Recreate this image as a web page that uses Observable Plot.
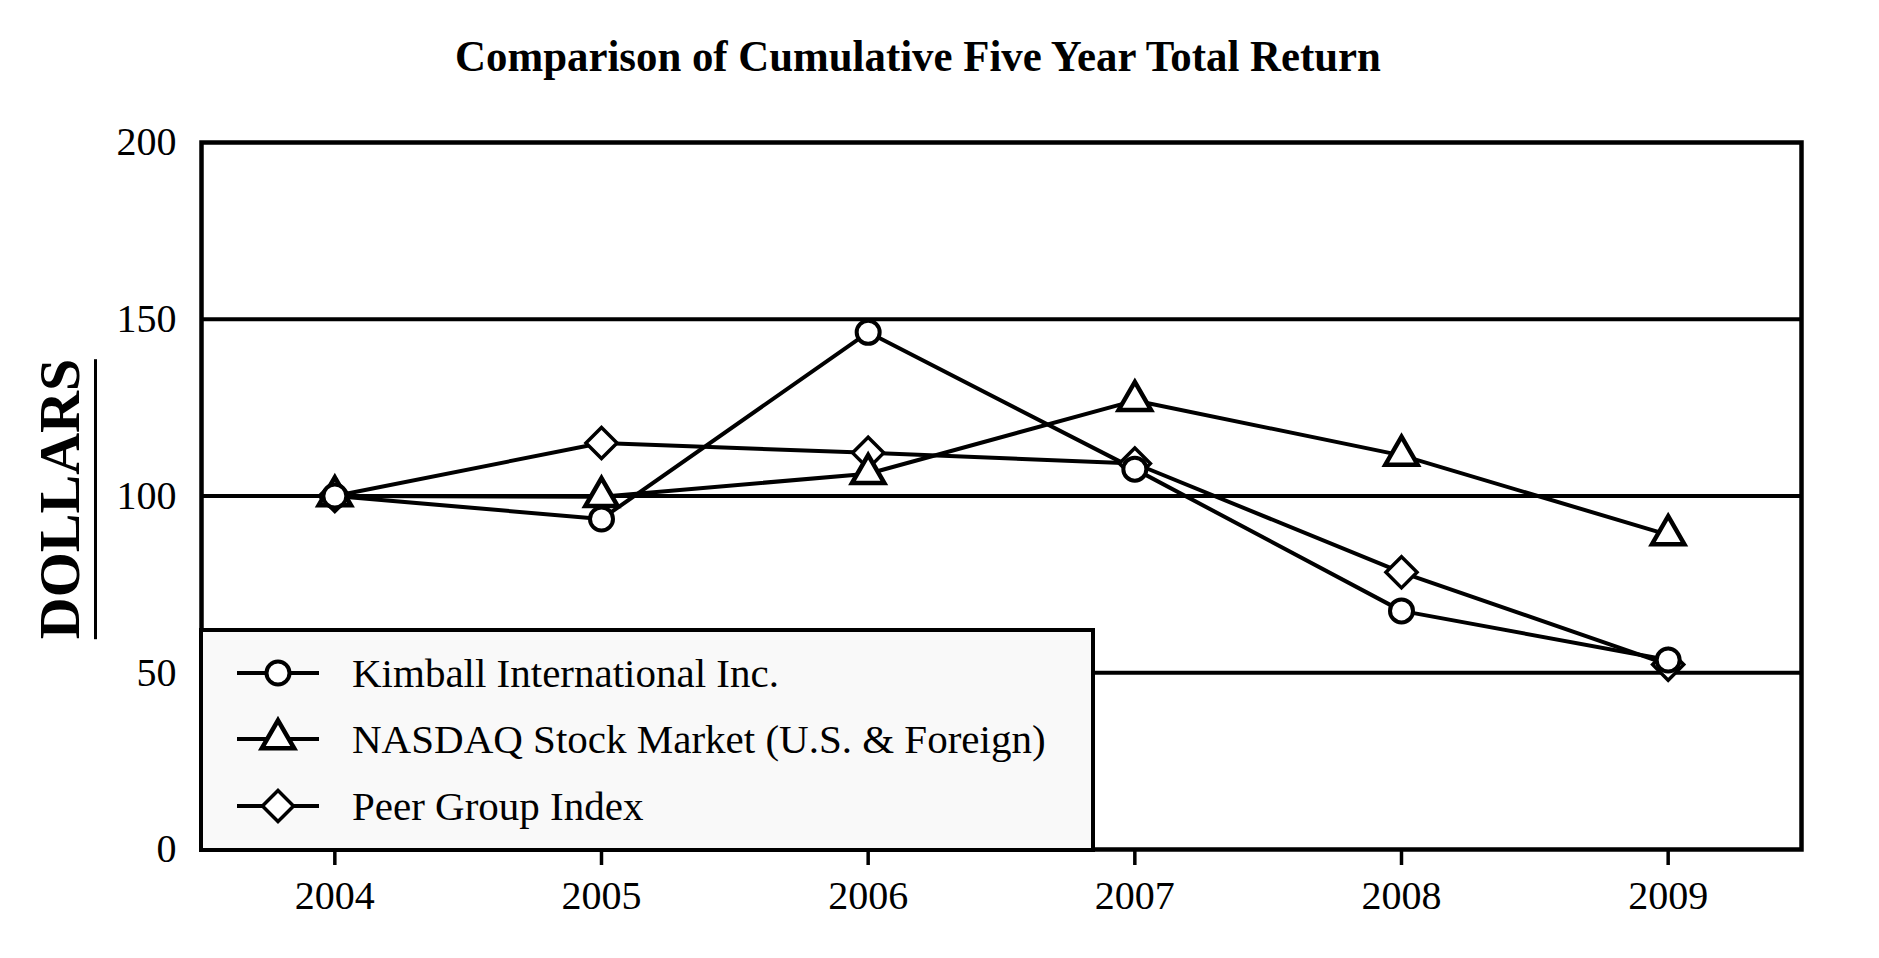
<!DOCTYPE html>
<html>
<head>
<meta charset="utf-8">
<script src="https://cdn.jsdelivr.net/npm/d3@7"></script>
<script src="https://cdn.jsdelivr.net/npm/@observablehq/plot@0.6"></script>
<style>
  html, body { margin: 0; padding: 0; background: #fff; }
  #wrap { position: relative; width: 1879px; height: 958px; font-family: "Liberation Serif", "Times New Roman", serif; color: #000; overflow: hidden; }
  #title { height: 100px; position: relative; }
  #title span { position: absolute; left: 917.5px; top: 34px; line-height: 45px; font-size: 45px; font-weight: bold; white-space: nowrap;
                transform: translateX(-50%) scaleX(0.952); transform-origin: 50% 50%; }
  #ylabel { position: absolute; left: 63.5px; top: 499px; transform: translate(-50%, -50%) rotate(-90deg);
            font-weight: bold; font-size: 58px; line-height: 58px; padding-bottom: 5px; border-bottom: 3px solid #000; white-space: nowrap; }
  #legend { position: absolute; left: 199px; top: 628px; width: 896px; height: 223.5px; box-sizing: border-box;
            border: 4px solid #000; background: #f9f9f9; }
  .row { position: absolute; left: 0; height: 50px; line-height: 50px; font-size: 41px; white-space: nowrap; }
  .row svg { position: absolute; left: 33.5px; top: 0; overflow: visible; }
  .row span { position: absolute; left: 149px; top: 0; }
</style>
</head>
<body>
<div id="wrap">
  <div id="title"><span>Comparison of Cumulative Five Year Total Return</span></div>
  <div id="chart"></div>
  <div id="ylabel">DOLLARS</div>
  <div id="legend"></div>
</div>
<script>
// ---- data ----
const years = [2004, 2005, 2006, 2007, 2008, 2009];
const kimball = [100, 93.5, 146.3, 107.6, 67.5, 53.6];
const nasdaq = [100, 99.8, 106.3, 127.0, 111.5, 89.0];
const peer = [100, 115.0, 112.2, 109.2, 78.4, 52.3];
const seriesNames = ["Kimball International Inc.", "NASDAQ Stock Market (U.S. & Foreign)", "Peer Group Index"];
const seriesSymbols = ["circle", "triangle", "diamond2"];
const yTicks = [0, 50, 100, 150, 200];
const gridValues = [50, 100, 150];

const seriesValues = [kimball, nasdaq, peer];
const rows = [];
seriesNames.forEach((name, i) => {
  years.forEach((yr, j) => rows.push({series: name, year: yr, value: seriesValues[i][j]}));
});
const symR = {"circle": 11.5, "triangle": 12, "diamond2": 14};
const symStroke = {"circle": 4, "triangle": 4.5, "diamond2": 3.5};

const dotMark = (i) => Plot.dot(rows.filter(d => d.series === seriesNames[i]), {
  x: "year", y: "value", symbol: () => seriesSymbols[i], r: symR[seriesSymbols[i]],
  fill: "white", stroke: "black", strokeWidth: symStroke[seriesSymbols[i]]
});

const chart = Plot.plot({
  width: 1879, height: 858,
  marginTop: 42, marginBottom: 109, marginLeft: 201, marginRight: 78,
  style: {fontFamily: "Liberation Serif", fontSize: "40px", color: "black", background: "white"},
  x: {domain: [2003.5, 2009.5]},
  y: {domain: [0, 200]},
  symbol: {type: "identity"},
  marks: [
    Plot.gridY(gridValues, {stroke: "black", strokeOpacity: 1, strokeWidth: 4}),
    Plot.axisY(yTicks, {tickSize: 0, tickPadding: 25, fontSize: 40, label: null}),
    Plot.axisX(years, {tickSize: 16, tickPadding: 15, tickFormat: d => String(d), fontSize: 40, strokeWidth: 3.5, label: null}),
    Plot.line(rows, {x: "year", y: "value", z: "series", stroke: "black", strokeWidth: 4}),
    dotMark(2),
    dotMark(1),
    dotMark(0),
    Plot.frame({stroke: "black", strokeWidth: 4.5})
  ]
});
document.getElementById("chart").appendChild(chart);

// ---- legend ----
const legend = document.getElementById("legend");
const rowCenters = [41, 107, 174];
const d3Sym = {"circle": d3.symbolCircle, "triangle": d3.symbolTriangle, "diamond2": d3.symbolDiamond2};
seriesNames.forEach((name, i) => {
  const row = document.createElement("div");
  row.className = "row";
  row.style.top = (rowCenters[i] - 25) + "px";
  const s = seriesSymbols[i];
  const r = symR[s];
  const path = d3.symbol(d3Sym[s], Math.PI * r * r)();
  row.innerHTML = `<svg width="82" height="50"><line x1="0" x2="82" y1="25" y2="25" stroke="black" stroke-width="4"/>` +
    `<path transform="translate(41,25)" d="${path}" fill="white" stroke="black" stroke-width="${symStroke[s]}"/></svg><span>${name}</span>`;
  legend.appendChild(row);
});
</script>
</body>
</html>
